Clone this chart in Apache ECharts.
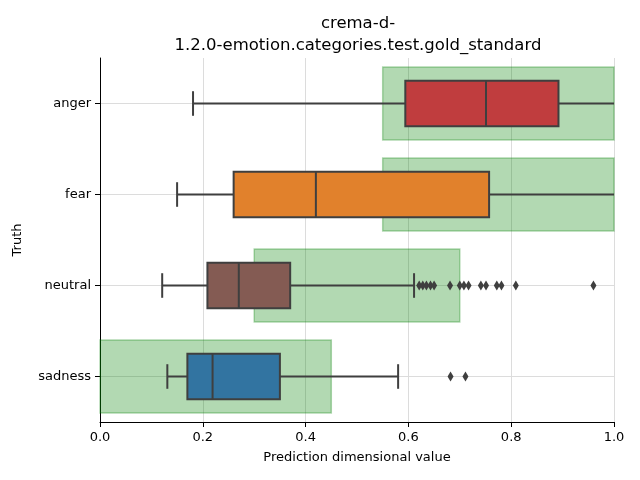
<!DOCTYPE html>
<html>
<head>
<meta charset="utf-8">
<script src="https://cdn.jsdelivr.net/npm/echarts@6/dist/echarts.min.js"></script>
<style>html,body{margin:0;padding:0;background:#fff}#c{width:640px;height:480px}</style>
</head>
<body>
<div id="c"></div>
<script>
var categories = ['anger', 'fear', 'neutral', 'sadness'];
var boxColors = ['#c03d3e', '#e1812c', '#845b53', '#3274a1'];
// [min, Q1, median, Q3, max]
var boxStats = [
  [0.181, 0.594, 0.751, 0.892, 1.05],
  [0.150, 0.260, 0.420, 0.757, 1.05],
  [0.121, 0.209, 0.270, 0.370, 0.611],
  [0.131, 0.170, 0.219, 0.350, 0.580]
];
var neutralOutliers = [0.621, 0.628, 0.635, 0.643, 0.650, 0.681, 0.700, 0.708, 0.717, 0.741, 0.751, 0.772, 0.781, 0.809, 0.960];
var sadnessOutliers = [0.682, 0.711];
// gold standard ranges [start, end]
var goldRanges = [
  [0.55, 1.0],
  [0.55, 1.0],
  [0.30, 0.70],
  [0.0, 0.45]
];
var xTicks = [0.0, 0.2, 0.4, 0.6, 0.8, 1.0];

var font = 'DejaVu Sans';
var chart = echarts.init(document.getElementById('c'), null, {renderer: 'canvas'});

var goldData = goldRanges.map(function (r, i) { return [i, r[0], r[1]]; });
var boxData = boxStats.map(function (s, i) { return [i].concat(s); });
var outlierData = [];
neutralOutliers.forEach(function (v) { outlierData.push([v, 2]); });
sadnessOutliers.forEach(function (v) { outlierData.push([v, 3]); });

var option = {
  animation: false,
  backgroundColor: '#fff',
  title: {
    text: 'crema-d-\n1.2.0-emotion.categories.test.gold_standard',
    left: 353, top: 8, textAlign: 'center',
    textStyle: {fontFamily: font, fontSize: 16.5, fontWeight: 'normal', color: '#000', lineHeight: 22}
  },
  grid: {left: 100, right: 26, top: 58, bottom: 58},
  xAxis: {
    type: 'value', min: 0, max: 1, interval: 0.2,
    name: 'Prediction dimensional value', nameLocation: 'middle', nameGap: 29,
    nameTextStyle: {fontFamily: font, fontSize: 13, color: '#000'},
    axisLine: {show: true, lineStyle: {color: '#000', width: 1}},
    axisTick: {show: true, length: 5, lineStyle: {color: '#000'}},
    axisLabel: {fontFamily: font, fontSize: 13, color: '#000', margin: 9,
      formatter: function (v) { return v.toFixed(1); }},
    splitLine: {show: true, lineStyle: {color: '#dcdcdc', width: 1}}
  },
  yAxis: {
    type: 'category', data: categories, inverse: true,
    name: 'Truth', nameLocation: 'middle', nameGap: 76, nameRotate: 90,
    nameTextStyle: {fontFamily: font, fontSize: 13, color: '#000'},
    axisLine: {show: true, lineStyle: {color: '#000', width: 1}},
    axisTick: {show: true, alignWithLabel: true, length: 5, lineStyle: {color: '#000'}},
    axisLabel: {fontFamily: font, fontSize: 13, color: '#000', margin: 9},
    splitLine: {show: true, alignWithLabel: true, lineStyle: {color: '#dcdcdc', width: 1}}
  },
  series: [
    {
      type: 'custom', name: 'gold', data: goldData, z: 2,
      encode: {x: [1, 2], y: 0},
      renderItem: function (params, api) {
        var p0 = api.coord([api.value(1), api.value(0)]);
        var p1 = api.coord([api.value(2), api.value(0)]);
        var h = api.size([0, 1])[1] * 0.8;
        return {
          type: 'rect',
          shape: {x: p0[0], y: p0[1] - h / 2, width: p1[0] - p0[0], height: h},
          style: {fill: 'rgba(0,128,0,0.3)', stroke: 'rgba(0,128,0,0.3)', lineWidth: 1.5}
        };
      }
    },
    {
      type: 'custom', name: 'box', data: boxData, z: 3,
      encode: {x: [1, 2, 3, 4, 5], y: 0},
      renderItem: function (params, api) {
        var cs = params.coordSys;
        var xmaxPix = cs.x + cs.width;
        var cat = api.value(0);
        var pts = [1, 2, 3, 4, 5].map(function (k) { return api.coord([api.value(k), cat]); });
        var cy = pts[0][1];
        var band = api.size([0, 1])[1];
        var bh = band * 0.5;
        var capH = band * 0.27;
        var lc = '#3f3f3f';
        var lw = 2;
        var children = [];
        var wMaxX = Math.min(pts[4][0], xmaxPix);
        children.push({type: 'line', shape: {x1: pts[0][0], y1: cy, x2: pts[1][0], y2: cy}, style: {stroke: lc, lineWidth: lw}});
        children.push({type: 'line', shape: {x1: pts[3][0], y1: cy, x2: wMaxX, y2: cy}, style: {stroke: lc, lineWidth: lw}});
        children.push({type: 'line', shape: {x1: pts[0][0], y1: cy - capH / 2, x2: pts[0][0], y2: cy + capH / 2}, style: {stroke: lc, lineWidth: lw}});
        if (pts[4][0] <= xmaxPix) {
          children.push({type: 'line', shape: {x1: pts[4][0], y1: cy - capH / 2, x2: pts[4][0], y2: cy + capH / 2}, style: {stroke: lc, lineWidth: lw}});
        }
        children.push({type: 'rect', shape: {x: pts[1][0], y: cy - bh / 2, width: pts[3][0] - pts[1][0], height: bh},
          style: {fill: boxColors[params.dataIndex], stroke: lc, lineWidth: lw}});
        children.push({type: 'line', shape: {x1: pts[2][0], y1: cy - bh / 2, x2: pts[2][0], y2: cy + bh / 2}, style: {stroke: lc, lineWidth: lw}});
        return {type: 'group', children: children};
      }
    },
    {
      type: 'scatter', name: 'outliers', data: outlierData, z: 4,
      symbol: 'diamond', symbolSize: [6, 10],
      itemStyle: {color: '#3f3f3f', opacity: 1}
    }
  ]
};
chart.setOption(option);
</script>
</body>
</html>
